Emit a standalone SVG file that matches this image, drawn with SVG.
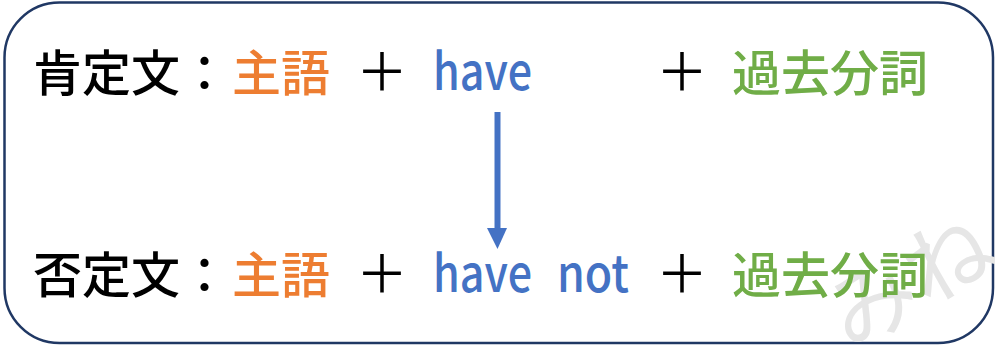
<svg xmlns="http://www.w3.org/2000/svg" width="995" height="347" viewBox="0 0 995 347">
<style>
text{font-family:"Noto Sans CJK JP","Noto Sans",sans-serif;font-size:49px;font-weight:500}
.k{fill:#000}
.o{fill:#ed7d31}
.b{fill:#4472c4;font-size:51px}
.g{fill:#70ad47}
.p{fill:#000;text-anchor:middle;font-size:52px;font-weight:400}
.wm{fill:#e6e6e6;font-size:88px;font-weight:400}
</style>
<rect x="0" y="0" width="995" height="347" fill="#ffffff"/>
<g id="frame">
<rect x="4.5" y="2.5" width="988.5" height="340.5" rx="55" ry="55" fill="#ffffff" stroke="#203864" stroke-width="2.5"/>
</g>
<g id="watermark">
<text class="wm" x="850" y="352" transform="rotate(-30 850 352)">みね</text>
</g>
<g id="connectors">
<line x1="497.5" y1="112" x2="497.5" y2="229" stroke="#4472c4" stroke-width="6"/>
<path d="M487,228 L507,228 L497.5,249 Z" fill="#4472c4"/>
</g>
<g id="affirmative">
<text class="k" x="33" y="91">肯定文：</text>
<text class="o" x="232" y="91">主語</text>
<text class="p" x="382" y="91">＋</text>
<text class="b" x="433" y="90" textLength="99" lengthAdjust="spacingAndGlyphs">have</text>
<text class="p" x="682" y="91">＋</text>
<text class="g" x="732" y="91">過去分詞</text>
</g>
<g id="negative">
<text class="k" x="33" y="293">否定文：</text>
<text class="o" x="232" y="293">主語</text>
<text class="p" x="382" y="293">＋</text>
<text class="b" x="433" y="292"><tspan textLength="99" lengthAdjust="spacingAndGlyphs">have</tspan><tspan x="557" textLength="72" lengthAdjust="spacingAndGlyphs">not</tspan></text>
<text class="p" x="682" y="293">＋</text>
<text class="g" x="732" y="293">過去分詞</text>
</g>
</svg>
